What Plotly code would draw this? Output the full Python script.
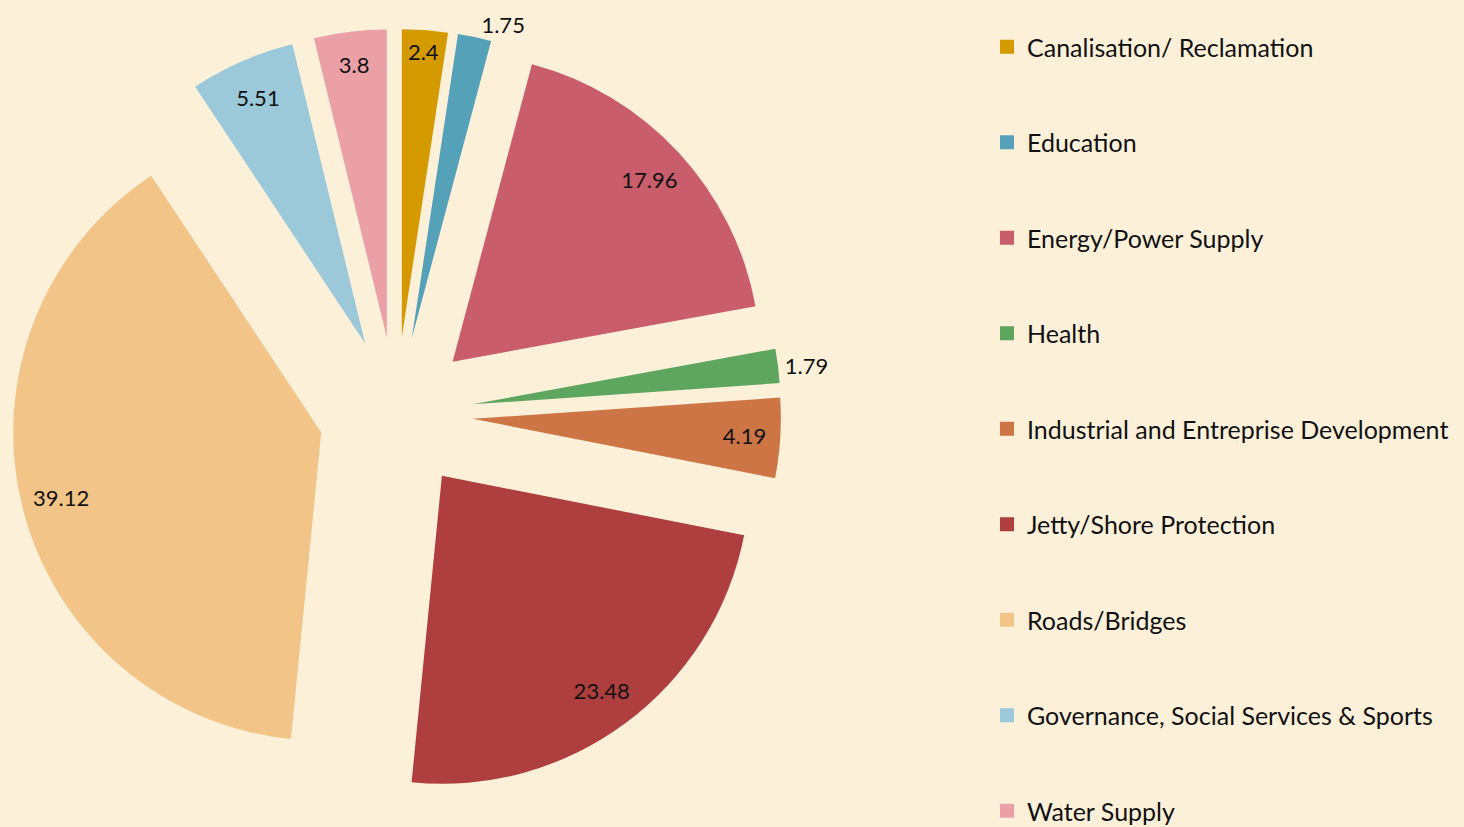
import plotly.graph_objects as go

categories = [
    "Canalisation/ Reclamation",
    "Education",
    "Energy/Power Supply",
    "Health",
    "Industrial and Entreprise Development",
    "Jetty/Shore Protection",
    "Roads/Bridges",
    "Governance, Social Services & Sports",
    "Water Supply",
]
values = [2.4, 1.75, 17.96, 1.79, 4.19, 23.48, 39.12, 5.51, 3.8]
colors = ["#D49A00", "#55A2B8", "#C95D6C", "#5EA55F", "#CD7545",
          "#AF3F3F", "#F3C487", "#9BC9DA", "#EBA0A8"]
label_positions = ["inside", "outside", "inside", "outside", "inside",
                   "inside", "inside", "inside", "inside"]

BG = "#FCF0D9"
FONT = "Lato"
TXT = "#111111"
pulls = [0.25] * len(values)
dom_x = [0, 792 / 1464]

fig = go.Figure()

# Exploded pie (slices)
fig.add_trace(go.Pie(
    labels=categories, values=values, sort=False, direction="clockwise",
    rotation=0, pull=pulls, marker=dict(colors=colors, line=dict(width=0)),
    textinfo="none", showlegend=False, domain=dict(x=dom_x, y=[0, 1]),
    hoverinfo="label+value",
))

# Transparent ring carrying the data labels near the outer edge
fig.add_trace(go.Pie(
    labels=categories, values=values, sort=False, direction="clockwise",
    rotation=0, pull=pulls, hole=0.74,
    marker=dict(colors=["rgba(0,0,0,0)"] * len(values), line=dict(width=0)),
    text=[f"{v:g}" for v in values], textinfo="text",
    textposition=label_positions, insidetextorientation="horizontal",
    textfont=dict(family=FONT, size=22, color=TXT),
    showlegend=False, domain=dict(x=dom_x, y=[0, 1]), hoverinfo="skip",
))

# Legend entries
for name, col in zip(categories, colors):
    fig.add_trace(go.Scatter(
        x=[None], y=[None], mode="markers", name=name, legendgroup=name,
        marker=dict(symbol="square", size=14, color=col),
    ))

fig.update_layout(
    width=1464, height=827,
    paper_bgcolor=BG, plot_bgcolor=BG,
    margin=dict(l=0, r=0, t=29, b=28, autoexpand=False),
    font=dict(family=FONT, color=TXT),
    xaxis=dict(visible=False), yaxis=dict(visible=False),
    uniformtext=dict(minsize=22, mode="show"),
    legend=dict(
        x=987 / 1464, xanchor="left",
        yref="container", y=1 - 24 / 827, yanchor="top",
        maxheight=827,
        font=dict(family=FONT, size=25, color=TXT),
        tracegroupgap=60, bgcolor="rgba(0,0,0,0)", itemclick=False,
    ),
)

fig.write_html("out.html", config={"displayModeBar": False},
               post_script="document.body.style.margin='0';")
